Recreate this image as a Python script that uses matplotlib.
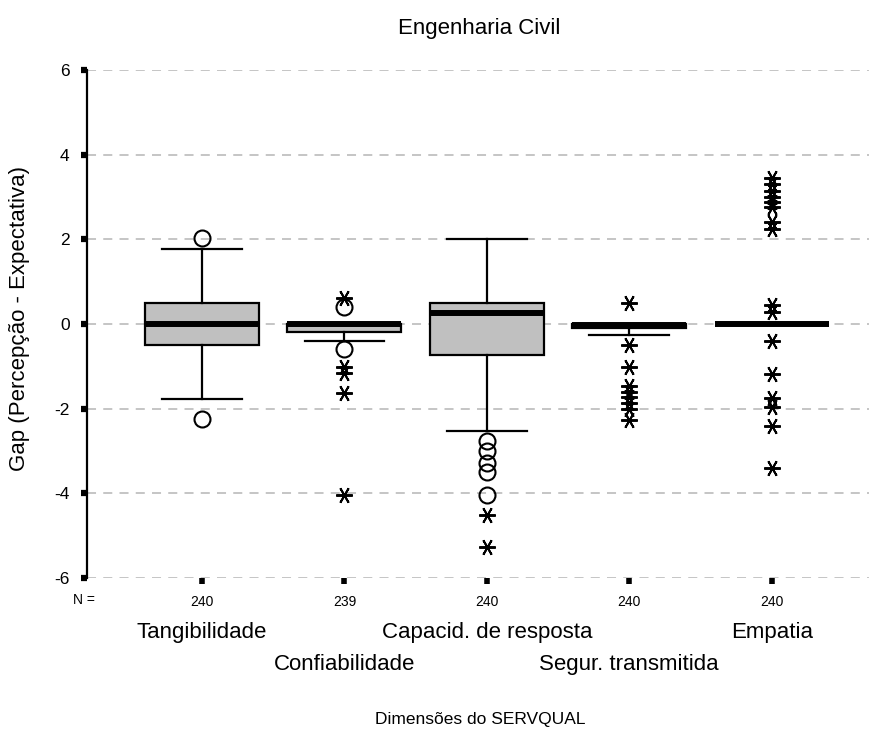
import matplotlib.pyplot as plt
import numpy as np

plt.rcParams["font.family"] = ["Liberation Sans", "DejaVu Sans"]

# Data (SPSS style boxplot)
categories = ["Tangibilidade", "Confiabilidade", "Capacid. de resposta",
              "Segur. transmitida", "Empatia"]
counts = [240, 239, 240, 240, 240]
q1 = [-0.5, -0.2, -0.73, -0.1, 0.0]
med = [0.0, 0.0, 0.27, -0.02, 0.0]
q3 = [0.5, 0.0, 0.5, 0.0, 0.0]
whislo = [-1.76, -0.39, -2.52, -0.26, 0.0]
whishi = [1.78, 0.0, 2.0, 0.0, 0.0]

# outliers (circles) and extremes (stars)
outliers = [
    [2.02, -2.24],
    [0.39, -0.58],
    [-2.76, -3.0, -3.28, -3.5, -4.04],
    [],
    [],
]
extremes = [
    [],
    [0.61, -1.01, -1.15, -1.62, -4.04],
    [-4.51, -5.26],
    [0.49, -0.5, -1.02, -1.46, -1.6, -1.73, -1.87, -2.0, -2.27],
    [3.45, 3.3, 3.15, 3.0, 2.88, 2.77, 2.42, 2.24, 0.45, 0.29,
     -0.4, -1.17, -1.74, -1.95, -2.41, -3.4],
]

yticks = [6, 4, 2, 0, -2, -4, -6]

W, H = 870, 733
fig = plt.figure(figsize=(W / 100, H / 100), dpi=100)
ax = fig.add_axes([87 / W, 1 - 578 / H, 1 - 87 / W, 508 / H])

positions = np.arange(1, len(categories) + 1)
stats = []
for i in range(len(categories)):
    stats.append({"med": med[i], "q1": q1[i], "q3": q3[i],
                  "whislo": whislo[i], "whishi": whishi[i], "fliers": []})

ax.bxp(stats, positions=positions, widths=0.8, patch_artist=True,
       showfliers=False,
       boxprops=dict(facecolor="#c0c0c0", edgecolor="black", linewidth=1.6),
       medianprops=dict(color="black", linewidth=4.3, solid_capstyle="butt"),
       whiskerprops=dict(color="black", linewidth=1.6),
       capprops=dict(color="black", linewidth=1.6),
       capwidths=0.56, zorder=3)

star = (6, 2, 90)
for i, p in enumerate(positions):
    if outliers[i]:
        ax.plot([p] * len(outliers[i]), outliers[i], "o", ms=11.5,
                mfc="none", mec="black", mew=1.5, zorder=4)
    if extremes[i]:
        ax.plot([p] * len(extremes[i]), extremes[i], marker=star, ls="none",
                ms=12, mec="black", mew=1.4, zorder=4)

ax.set_xlim(0.193, 5.69)
ax.set_ylim(-6, 6)
ax.set_yticks(yticks)
ax.set_yticklabels([str(t) for t in yticks], fontsize=12.5)
ax.yaxis.grid(True, color="#c0c0c0", linestyle=(0, (5, 4)), linewidth=1.3)
ax.set_axisbelow(True)

for s in ["top", "right", "bottom"]:
    ax.spines[s].set_visible(False)
ax.spines["left"].set_linewidth(1.6)

ax.tick_params(axis="y", direction="out", length=4.5, width=4.5, pad=8)
ax.set_xticks(positions)
ax.set_xticklabels([str(c) for c in counts], fontsize=10)
ax.tick_params(axis="x", direction="out", length=4, width=4, pad=8)

fig.text(73 / W, 1 - 604 / H, "N =", fontsize=10, ha="left", va="baseline")

trans = ax.get_xaxis_transform()
for i, (p, name) in enumerate(zip(positions, categories)):
    base = 638 if i % 2 == 0 else 670
    ax.text(p, (578 - base) / 508, name, transform=trans, ha="center",
            va="baseline", fontsize=16)

fig.text(479 / W, 1 - 34 / H, "Engenharia Civil", fontsize=16,
         ha="center", va="baseline")
fig.text(20 / W, 1 - 319 / H, "Gap (Percepção - Expectativa)", fontsize=16,
         rotation=90, ha="center", va="center")
fig.text(480 / W, 1 - 724 / H, "Dimensões do SERVQUAL", fontsize=12.5,
         ha="center", va="baseline")

fig.savefig("out.png", dpi=100)
